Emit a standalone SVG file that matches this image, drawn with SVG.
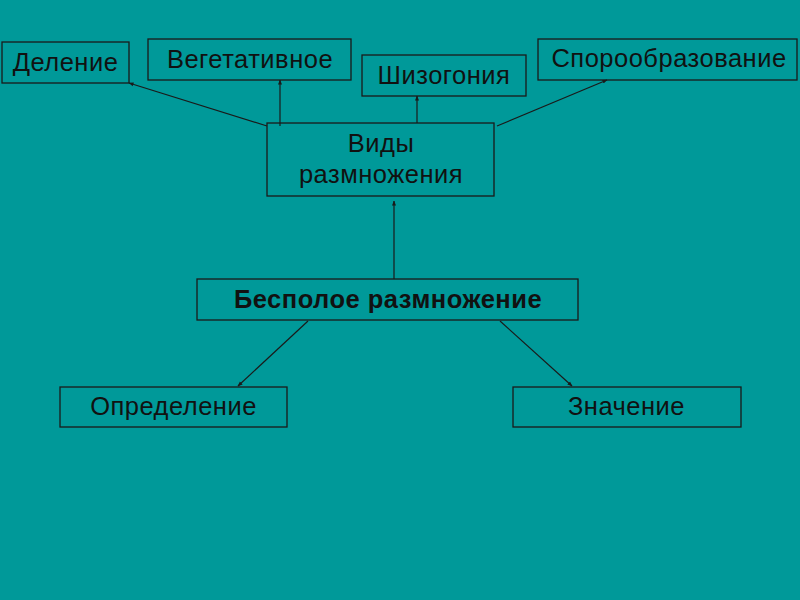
<svg xmlns="http://www.w3.org/2000/svg" width="800" height="600" viewBox="0 0 800 600">
<defs>
<style>
.box{fill:none;stroke:#1a1a1a;stroke-width:1.3}
.t{font-family:"Liberation Sans",Arial,sans-serif;font-size:25.5px;letter-spacing:0.5px;fill:#111;text-anchor:middle}
.b{font-weight:bold}
.c{stroke:#1a1a1a;stroke-width:1.2;fill:none;marker-end:url(#ah)}
</style>
<marker id="ah" viewBox="0 0 10 10" refX="9" refY="5" markerWidth="5" markerHeight="5" orient="auto" markerUnits="userSpaceOnUse">
<path d="M0,1 L10,5 L0,9 z" fill="#1a1a1a"/>
</marker>
</defs>
<rect width="800" height="600" fill="#009999"/>
<g id="connectors">
<line class="c" x1="267" y1="126" x2="129" y2="83"/>
<line class="c" x1="280" y1="126" x2="280" y2="80"/>
<line class="c" x1="417" y1="123" x2="417" y2="96"/>
<line class="c" x1="497" y1="126" x2="607" y2="80"/>
<line class="c" x1="394" y1="279" x2="394" y2="201"/>
<line class="c" x1="308" y1="321" x2="238" y2="386"/>
<line class="c" x1="500" y1="321" x2="572" y2="386"/>
</g>
<g id="delenie"><rect class="box" x="2" y="42" width="127" height="41"/><text class="t" x="65.5" y="71">Деление</text></g>
<g id="vegetativnoe"><rect class="box" x="148" y="39" width="203" height="41"/><text class="t" x="250" y="67.5">Вегетативное</text></g>
<g id="shizogonia"><rect class="box" x="362" y="55" width="164" height="41"/><text class="t" x="444" y="84">Шизогония</text></g>
<g id="sporo"><rect class="box" x="538" y="39" width="259" height="41"/><text class="t" x="669" y="67">Спорообразование</text></g>
<g id="vidy"><rect class="box" x="267" y="123" width="227" height="73"/><text class="t" x="381" y="152">Виды</text><text class="t" x="381" y="183">размножения</text></g>
<g id="bespoloe"><rect class="box" x="197" y="279" width="381" height="41"/><text class="t b" x="388" y="307.5">Бесполое размножение</text></g>
<g id="opredelenie"><rect class="box" x="60" y="387" width="227" height="40"/><text class="t" x="173.5" y="414.5">Определение</text></g>
<g id="znachenie"><rect class="box" x="513" y="387" width="228" height="40"/><text class="t" x="626.5" y="414.5">Значение</text></g>
</svg>
